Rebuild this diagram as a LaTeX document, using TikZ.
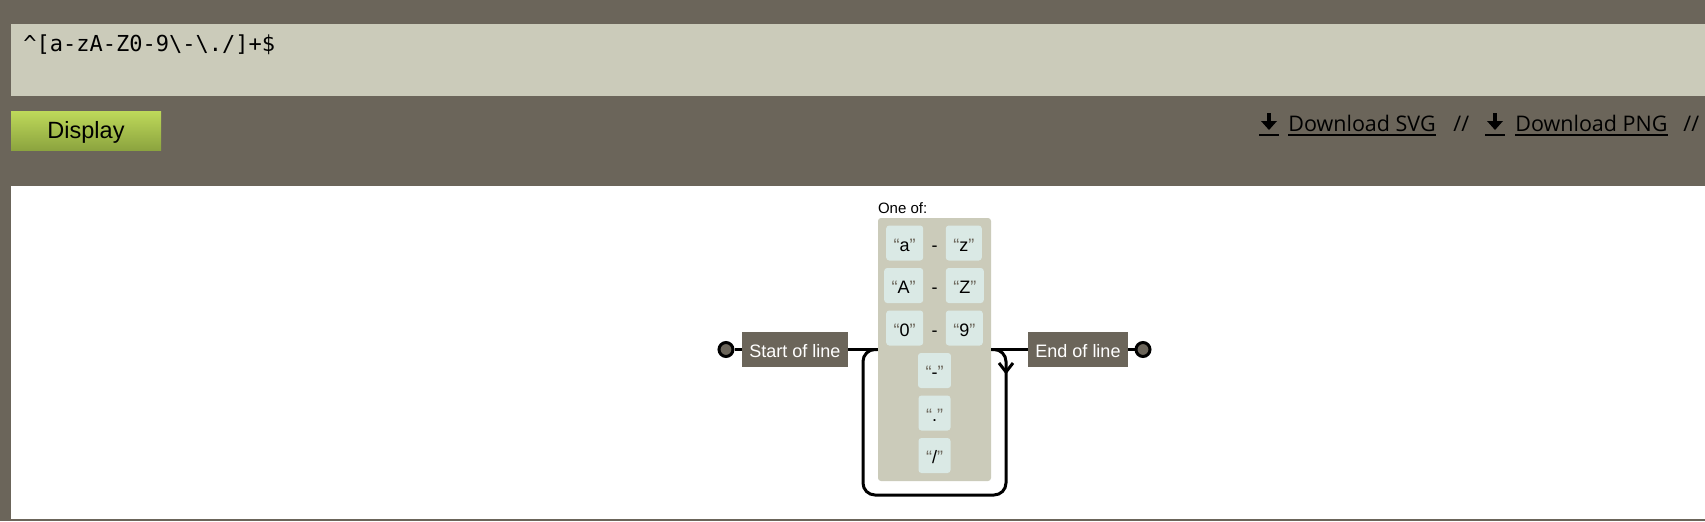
\documentclass[tikz,border=0pt]{standalone}
\usepackage{fontspec}
\setmainfont{Liberation Sans}
\newfontfamily\codefont{DejaVu Sans Mono}
\newfontfamily\linkfont{Open Sans}
\usetikzlibrary{positioning}
\definecolor{pagegray}{HTML}{6B655A}
\definecolor{fieldgray}{HTML}{CBCBBA}
\definecolor{litblue}{HTML}{DAE9E5}
\definecolor{quotegray}{HTML}{6B655A}
\definecolor{btntop}{HTML}{BED95A}
\definecolor{btnbot}{HTML}{8CA43F}
\newcommand{\litchar}[1]{{\color{quotegray}“}#1{\color{quotegray}”}}
\tikzset{
  railline/.style = {line width = 1.5pt},
  anchorbox/.style = {fill = pagegray, text = white, font = \fontsize{9}{10}\selectfont, minimum height = 17.5pt, inner xsep = 3.75pt, inner ysep = 0pt, text height = 7.5pt, text depth = 0pt},
  litbox/.style = {fill = litblue, rounded corners = 1.5pt, font = \fontsize{9}{10}\selectfont, minimum height = 17.5pt, inner xsep = 3.75pt, inner ysep = 0pt, text height = 8pt, text depth = 0pt},
  rangedash/.style = {font = \fontsize{9}{10}\selectfont, inner sep = 0pt, text height = 8pt, text depth = 0pt},
  railend/.style = {circle, draw, line width = 1.5pt, fill = pagegray, minimum size = 7pt, inner sep = 0pt},
  linktext/.style = {anchor = base west, inner sep = 0pt, font = \linkfont\fontsize{10.75}{12}\selectfont}
}
\begin{document}
\begin{tikzpicture}[x = 0.5pt, y = -0.5pt]
                \useasboundingbox (0, 0) rectangle (1705, 521);
                \fill[pagegray] (0, 0) rectangle (1705, 521);
                % input field and button
                \fill[fieldgray] (11, 24) rectangle (1705, 96);
                \node[anchor = base west, inner sep = 0pt, font = \codefont\fontsize{11}{13}\selectfont] (pattern) at (23, 51.5) {\textasciicircum[a-zA-Z0-9\textbackslash-\textbackslash./]+\$};
                \shade[top color = btntop, bottom color = btnbot] (11, 111) rectangle (161, 150);
                \node[anchor = base, inner sep = 0pt, font = \fontsize{11.75}{14}\selectfont] (display) at (86, 138) {Display};
                % download links
                \foreach \ix in {1259, 1485} {
                    \fill (\ix + 8, 113) rectangle (\ix + 12, 122);
                    \fill (\ix + 2, 121) -- (\ix + 18, 121) -- (\ix + 10, 130) -- cycle;
                    \fill (\ix, 133.5) rectangle (\ix + 20, 135.5);
                }
                \node[linktext] (svglink) at (1288, 131) {Download SVG};
                \node[linktext] (sepa) at (1453, 131) {//};
                \node[linktext] (pnglink) at (1515, 131) {Download PNG};
                \node[linktext] (sepb) at (1683, 131) {//};
                \draw[line width = 1pt] ([yshift = -1.75pt] svglink.base west) -- ([yshift = -1.75pt] svglink.base east);
                \draw[line width = 1pt] ([yshift = -1.75pt] pnglink.base west) -- ([yshift = -1.75pt] pnglink.base east);
                % diagram
                \fill[white] (11, 186) rectangle (1705, 519);
                \node[railend] (startpt) at (726, 349.5) {};
                \node[anchorbox] (startbox) at (795, 349.5) {Start of line};
                \node[fill = fieldgray, rounded corners = 1.5pt, minimum width = 56.5pt, minimum height = 131.5pt] (oneof) at (934.5, 349.5) {};
                \node[anchor = base west, inner sep = 0pt, font = \fontsize{7.5}{9}\selectfont] (oneoflabel) at ([yshift = 2pt] oneof.north west) {One of:};
                \node[rangedash] (dasha) at (934.5, 243) {-};
                \node[litbox, left = 3.75pt of dasha] (loa) {\litchar{a}};
                \node[litbox, right = 3.75pt of dasha] (hia) {\litchar{z}};
                \node[rangedash] (dashb) at (934.5, 285.5) {-};
                \node[litbox, left = 3.75pt of dashb] (lob) {\litchar{A}};
                \node[litbox, right = 3.75pt of dashb] (hib) {\litchar{Z}};
                \node[rangedash] (dashc) at (934.5, 328) {-};
                \node[litbox, left = 3.75pt of dashc] (loc) {\litchar{0}};
                \node[litbox, right = 3.75pt of dashc] (hic) {\litchar{9}};
                \node[litbox] (hyphen) at (934.5, 370.5) {\litchar{-}};
                \node[litbox] (dot) at (934.5, 413) {\litchar{.}};
                \node[litbox] (slash) at (934.5, 455.5) {\litchar{/}};
                \node[anchorbox] (endbox) at (1078, 349.5) {End of line};
                \node[railend] (endpt) at (1143, 349.5) {};
                \draw[railline] (startpt) -- (startbox);
                \draw[railline] (startbox) -- (oneof);
                \draw[railline] (oneof) -- (endbox);
                \draw[railline] (endbox) -- (endpt);
                \draw[railline, rounded corners = 6pt] (oneof.west) -| (863, 495) -| (1006, 349.5) -- (oneof.east);
                \draw[railline] (999, 363) -- (1006, 372) -- (1013, 363);
            \end{tikzpicture}
\end{document}
